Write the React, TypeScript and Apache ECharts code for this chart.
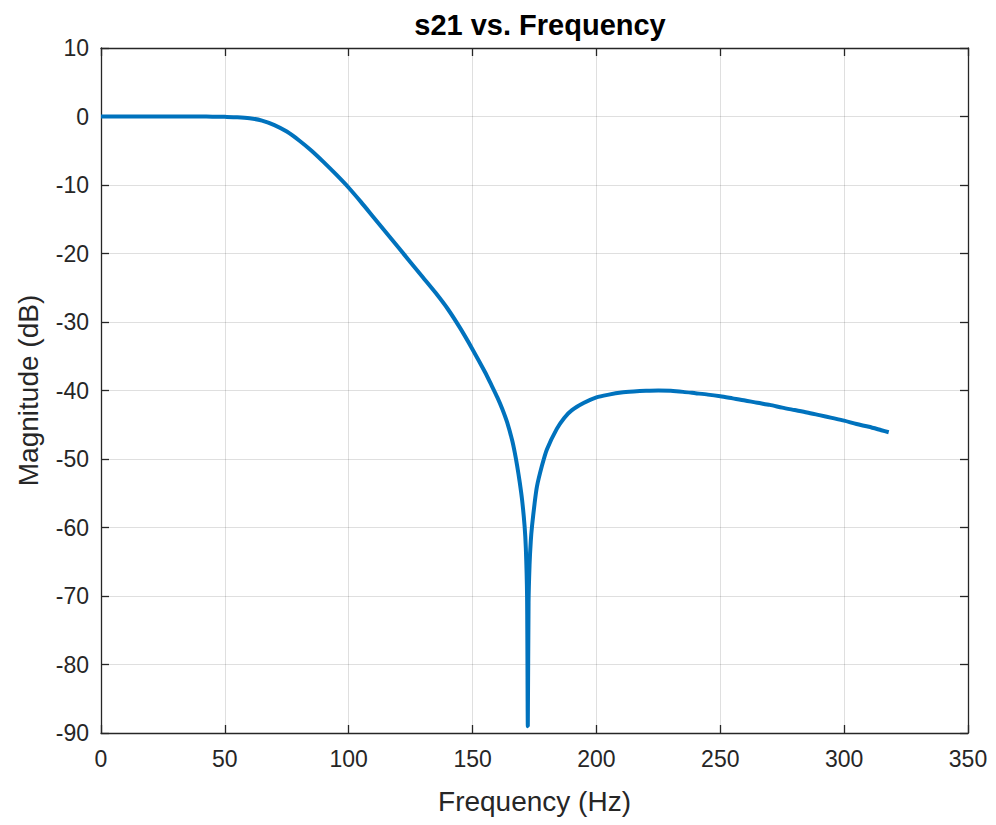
import React, { useEffect, useRef } from "react";
import * as echarts from "echarts";

const chartTitle = "s21 vs. Frequency";
const xAxisTitle = "Frequency (Hz)";
const yAxisTitle = "Magnitude (dB)";

const frequencyHz = [
  0, 10, 20, 30, 40, 45, 50, 55, 60, 65, 70, 75, 80, 85, 90, 95, 100, 105, 110,
  115, 120, 125, 130, 135, 140, 145, 150, 155, 158, 160, 162, 164, 166, 167, 168,
  169, 170, 171, 171.5, 172, 172.3, 172.6, 173, 173.5, 174, 175, 176, 178, 180,
  184, 187, 190, 195, 200, 205, 210, 215, 220, 225, 230, 235, 240, 245, 250, 255,
  260, 265, 270, 275, 280, 285, 290, 295, 300, 305, 310, 315, 318,
];

const magnitudeDb = [
  0, 0, 0, 0, -0.01, -0.02, -0.05, -0.1, -0.25, -0.6, -1.25, -2.2, -3.5, -5.0,
  -6.7, -8.5, -10.4, -12.5, -14.7, -16.9, -19.1, -21.3, -23.5, -25.7, -28.1,
  -30.9, -34.0, -37.3, -39.5, -41.0, -42.7, -44.7, -47.3, -49.0, -51.0, -53.3,
  -56.0, -59.8, -63.0, -70.0, -89.0, -71.0, -65.5, -62.0, -59.8, -56.6, -54.0,
  -51.0, -48.6, -45.6, -44.0, -42.9, -41.8, -41.0, -40.6, -40.3, -40.15, -40.05,
  -40.0, -40.05, -40.2, -40.4, -40.6, -40.85, -41.15, -41.45, -41.8, -42.1,
  -42.5, -42.85, -43.2, -43.6, -44.0, -44.4, -44.9, -45.3, -45.8, -46.1,
];

const xMin = 0;
const xMax = 350;
const xStep = 50;
const yMin = -90;
const yMax = 10;
const yStep = 10;

export default function App() {
  const ref = useRef<HTMLDivElement>(null);

  useEffect(() => {
    if (!ref.current) return;
    const chart = echarts.init(ref.current, null, { renderer: "svg" });
    const axisColor = "#262626";
    const font = "'Liberation Sans', Arial, Helvetica, sans-serif";
    const points = frequencyHz.map((f, i) => [f, magnitudeDb[i]]);

    const baseX = {
      type: "value" as const,
      min: xMin,
      max: xMax,
      interval: xStep,
      axisLine: { show: true, onZero: false, lineStyle: { color: axisColor, width: 1.3 } },
      axisTick: { show: true, inside: true, length: 8, lineStyle: { color: axisColor, width: 1.3 } },
    };
    const baseY = {
      type: "value" as const,
      min: yMin,
      max: yMax,
      interval: yStep,
      axisLine: { show: true, onZero: false, lineStyle: { color: axisColor, width: 1.3 } },
      axisTick: { show: true, inside: true, length: 8, lineStyle: { color: axisColor, width: 1.3 } },
    };

    chart.setOption({
      animation: false,
      backgroundColor: "#ffffff",
      title: {
        text: chartTitle,
        left: 535,
        top: 5,
        textAlign: "center",
        textStyle: {
          fontFamily: font,
          fontSize: 29,
          fontWeight: "bold",
          color: "#000000",
        },
      },
      grid: { left: 101, right: 28, top: 48, bottom: 92, containLabel: false },
      xAxis: [
        {
          ...baseX,
          position: "bottom",
          name: xAxisTitle,
          nameLocation: "middle",
          nameGap: 54,
          nameTextStyle: { fontFamily: font, fontSize: 28, color: axisColor },
          axisLabel: { show: true, margin: 14, fontFamily: font, fontSize: 23, color: axisColor },
          splitLine: { show: true, lineStyle: { color: "rgba(38,38,38,0.15)", width: 1 } },
        },
        {
          ...baseX,
          position: "top",
          axisLabel: { show: false },
          splitLine: { show: false },
        },
      ],
      yAxis: [
        {
          ...baseY,
          position: "left",
          name: yAxisTitle,
          nameLocation: "middle",
          nameGap: 59,
          nameRotate: 90,
          nameTextStyle: { fontFamily: font, fontSize: 28, color: axisColor },
          axisLabel: { show: true, margin: 12, fontFamily: font, fontSize: 23, color: axisColor },
          splitLine: { show: true, lineStyle: { color: "rgba(38,38,38,0.15)", width: 1 } },
        },
        {
          ...baseY,
          position: "right",
          axisLabel: { show: false },
          splitLine: { show: false },
        },
      ],
      series: [
        {
          type: "line",
          data: points,
          xAxisIndex: 0,
          yAxisIndex: 0,
          showSymbol: false,
          smooth: 0.25,
          lineStyle: { color: "#0072BD", width: 4 },
          clip: true,
        },
      ],
    });

    return () => chart.dispose();
  }, []);

  return (
    <div
      ref={ref}
      style={{ position: "fixed", left: 0, top: 0, width: 996, height: 825, background: "#fff" }}
    />
  );
}
